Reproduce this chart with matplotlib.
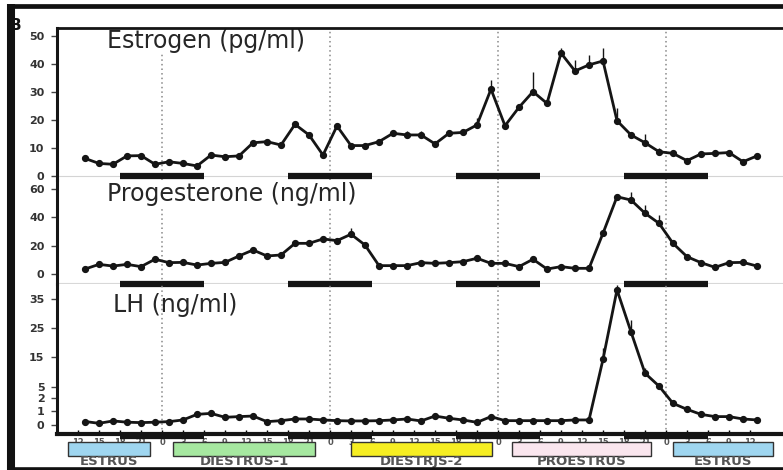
import numpy as np
import matplotlib
matplotlib.use("Agg")
import matplotlib.pyplot as plt
from matplotlib.lines import Line2D

plt.rcParams['font.family'] = ['DejaVu Sans']

# ---------------- data ----------------
hours = np.arange(-11, 86, 2)          # sampling times, h after first midnight

estrogen = [6.3, 4.5, 4.2, 7.2, 7.3, 4.2, 5.1, 4.5, 3.6, 7.5,
            6.9, 7.2, 11.9, 12.3, 11.1, 18.5, 14.7, 7.5, 17.9, 10.9,
            10.9, 12.3, 15.3, 14.7, 14.7, 11.5, 15.3, 15.6, 18.3, 31.1,
            18.0, 24.6, 30.2, 26.0, 44.0, 37.6, 39.8, 41.2, 19.8, 14.7,
            11.9, 8.7, 8.1, 5.5, 7.9, 8.1, 8.4, 5.1, 7.2]
estrogen_err = [0, 0, 0, 0, 0, 0, 0, 0, 0, 0,
                0, 0, 0, 0, 0, 1.0, 0, 0, 1.0, 0,
                0, 0, 1.2, 1.5, 1.5, 0, 1.2, 0, 2.4, 3.3,
                0, 1.0, 7.2, 1.0, 1.8, 3.9, 3.6, 4.8, 4.4, 1.0,
                3.3, 1.5, 1.0, 0, 0, 0, 0, 0, 0]

progesterone = [3.7, 7.0, 5.8, 7.0, 5.4, 10.6, 8.2, 8.4, 6.5, 7.7,
                8.4, 12.9, 17.1, 12.9, 13.6, 21.8, 21.8, 24.9, 23.7, 28.2,
                20.6, 6.1, 6.1, 6.1, 8.2, 7.7, 8.2, 8.9, 11.3, 7.7,
                7.7, 5.4, 10.6, 3.7, 5.4, 4.2, 4.2, 28.9, 54.6, 52.3,
                43.0, 35.9, 21.8, 12.4, 8.2, 4.9, 8.2, 8.4, 5.8]
progesterone_err = [0] * 19 + [4.2] + [0] * 18 + [2.0, 5.9, 5.9, 5.9] + [0] * 7

lh = [0.25, 0.12, 0.29, 0.2, 0.17, 0.2, 0.24, 0.36, 0.76, 0.83,
      0.55, 0.6, 0.64, 0.24, 0.31, 0.43, 0.43, 0.36, 0.31, 0.29,
      0.29, 0.31, 0.36, 0.43, 0.29, 0.64, 0.48, 0.36, 0.19, 0.6,
      0.31, 0.31, 0.31, 0.31, 0.31, 0.36, 0.36, 14.3, 38.1, 23.6,
      9.7, 5.4, 1.6, 1.13, 0.76, 0.6, 0.6, 0.43, 0.36]
lh_err = [0] * 37 + [3.7, 1.5, 4.0, 1.7] + [0] * 8

midnights = [0, 24, 48, 72]
dark_start = [-6, 18, 42, 66]
dark_len = 12

phase_names = ["ESTRUS", "DIESTRUS-1", "DIESTRJS-2", "PROESTRUS", "ESTRUS"]
phase_start = [-13.5, 1.5, 27.0, 50.0, 73.0]
phase_end = [-1.7, 21.9, 47.1, 69.9, 87.3]
phase_colors = ["#9fd6f0", "#a6e8a0", "#f6ee22", "#fae6ee", "#9fd6f0"]

est_ticks = [0, 10, 20, 30, 40, 50]
prog_ticks = [0, 20, 40, 60]
lh_ticks = [0, 1, 2, 5, 15, 25, 35]
x_ticks = np.arange(-12, 87, 3)
x_ticklabels = [str(int(h % 24)) for h in x_ticks]

# ---------------- layout ----------------
W, H = 783, 470
fig = plt.figure(figsize=(W / 100, H / 100), dpi=100)
fig.patch.set_facecolor('white')


def box(x0, y0, x1, y1):
    return [x0 / W, 1 - y1 / H, (x1 - x0) / W, (y1 - y0) / H]


XLIM = (-15, (W - 162) / 7.0)

ax1 = fig.add_axes(box(57, 28, W, 180))
ax2 = fig.add_axes(box(57, 180, W, 284))
ax3 = fig.add_axes(box(57, 284, W, 434))
axp = fig.add_axes(box(57, 441, W, 466))

# broken / stretched LH axis
lh_v = [-10, 0, 1, 2, 5, 15, 25, 35, 60]
lh_p = [-30, 0, 14, 26.7, 37.7, 67.7, 97.3, 126, 200]


def lh_fwd(v):
    return np.interp(v, lh_v, lh_p)


def lh_inv(p):
    return np.interp(p, lh_p, lh_v)


ax3.set_yscale('function', functions=(lh_fwd, lh_inv))

ax1.set_ylim(-1.43, 53.0)
ax2.set_ylim(-6.83, 66.4)
ax3.set_ylim(-3.0, 40.07)

lc = '#151515'
for ax, vals, err, ticks in [(ax1, estrogen, estrogen_err, est_ticks),
                             (ax2, progesterone, progesterone_err, prog_ticks),
                             (ax3, lh, lh_err, lh_ticks)]:
    ax.set_xlim(*XLIM)
    ax.patch.set_alpha(0)
    for s in ['right', 'top', 'bottom']:
        ax.spines[s].set_visible(False)
    ax.spines['left'].set_linewidth(2.2)
    ax.spines['left'].set_color(lc)
    ax.set_yticks(ticks)
    ax.set_yticklabels([str(t) for t in ticks], fontsize=8, fontweight='bold',
                       color='#333333')
    ax.tick_params(axis='y', direction='out', length=4, width=1, pad=5,
                   color='#444444')
    ax.errorbar(hours, vals, yerr=[np.zeros(len(err)), err], fmt='-o',
                color=lc, lw=2.0, ms=4.2, elinewidth=1, capsize=0, zorder=4)
    for m in midnights:
        ax.axvline(m, color='#888888', ls=(0, (1, 2)), lw=1.1, zorder=1)

ax1.spines['top'].set_visible(True)
ax1.spines['top'].set_linewidth(2)
ax1.spines['top'].set_color(lc)
ax1.set_xticks([])
ax2.set_xticks([])

ax3.spines['bottom'].set_visible(True)
ax3.spines['bottom'].set_linewidth(3)
ax3.spines['bottom'].set_color(lc)
ax3.set_xticks(x_ticks)
ax3.set_xticklabels(x_ticklabels, fontsize=6, fontweight='bold', color='#555555')
ax3.tick_params(axis='x', direction='in', length=3, width=1, pad=3)
ax3.set_yticks([], minor=True)

# faint baselines
ax1.axhline(0, color='#d4d4d4', lw=0.8, zorder=0)
ax2.axhline(-6.2, color='#d8d8d8', lw=0.8, zorder=0)

# dark-period bars
ds = np.array(dark_start)
n_d = len(ds)
ax1.hlines(np.zeros(n_d), ds, ds + dark_len, color=lc, lw=4.5, zorder=3)
ax2.hlines(np.zeros(n_d), ds, ds + dark_len, color=lc, lw=4.5, zorder=3,
           transform=ax2.get_xaxis_transform(), clip_on=False)
ax3.hlines(np.full(n_d, -0.013), ds, ds + dark_len, color=lc, lw=4.5, zorder=3,
           transform=ax3.get_xaxis_transform(), clip_on=False)

# titles (below spines, above dotted lines)
tkw = dict(fontsize=17, color='#262626', ha='left', va='center')
ax1.text(0.0689, 0.915, 'Estrogen (pg/ml)', transform=ax1.transAxes,
         bbox=dict(facecolor='white', edgecolor='none', pad=0.5), zorder=2, **tkw)
ax2.text(0.0689, 0.865, 'Progesterone (ng/ml)', transform=ax2.transAxes,
         bbox=dict(facecolor='white', edgecolor='none', pad=0.5), zorder=2, **tkw)
ax3.text(0.0771, 0.86, 'LH (ng/ml)', transform=ax3.transAxes, zorder=2, **tkw)

# phase boxes
axp.set_xlim(*XLIM)
axp.set_ylim(0, 1)
axp.axis('off')
ps = np.array(phase_start)
pe = np.array(phase_end)
axp.bar(ps, 0.56, width=pe - ps, bottom=0.40, align='edge',
        color=phase_colors, edgecolor='#333333', linewidth=1.0)
for name, a, b in zip(phase_names, ps, pe):
    axp.text((a + b) / 2, 0.18, name, ha='center', va='center', fontsize=9.5,
             fontweight='bold', color='#555555')


# scanned page frame
def fline(x0, y0, x1, y1, lw):
    fig.add_artist(Line2D([x0 / W, x1 / W], [1 - y0 / H, 1 - y1 / H],
                          transform=fig.transFigure, color='#111111', lw=lw,
                          solid_capstyle='butt'))


fline(7, 6, W, 6, 3.4)
fline(11, 4, 11, H, 5.8)
fline(7, 468.5, W, 468.5, 2.6)
fig.text(15 / W, 1 - 26 / H, 'B', fontsize=11, fontweight='bold', color='#111111',
         ha='center', va='center')

fig.savefig('out.png', dpi=100, facecolor='white')
